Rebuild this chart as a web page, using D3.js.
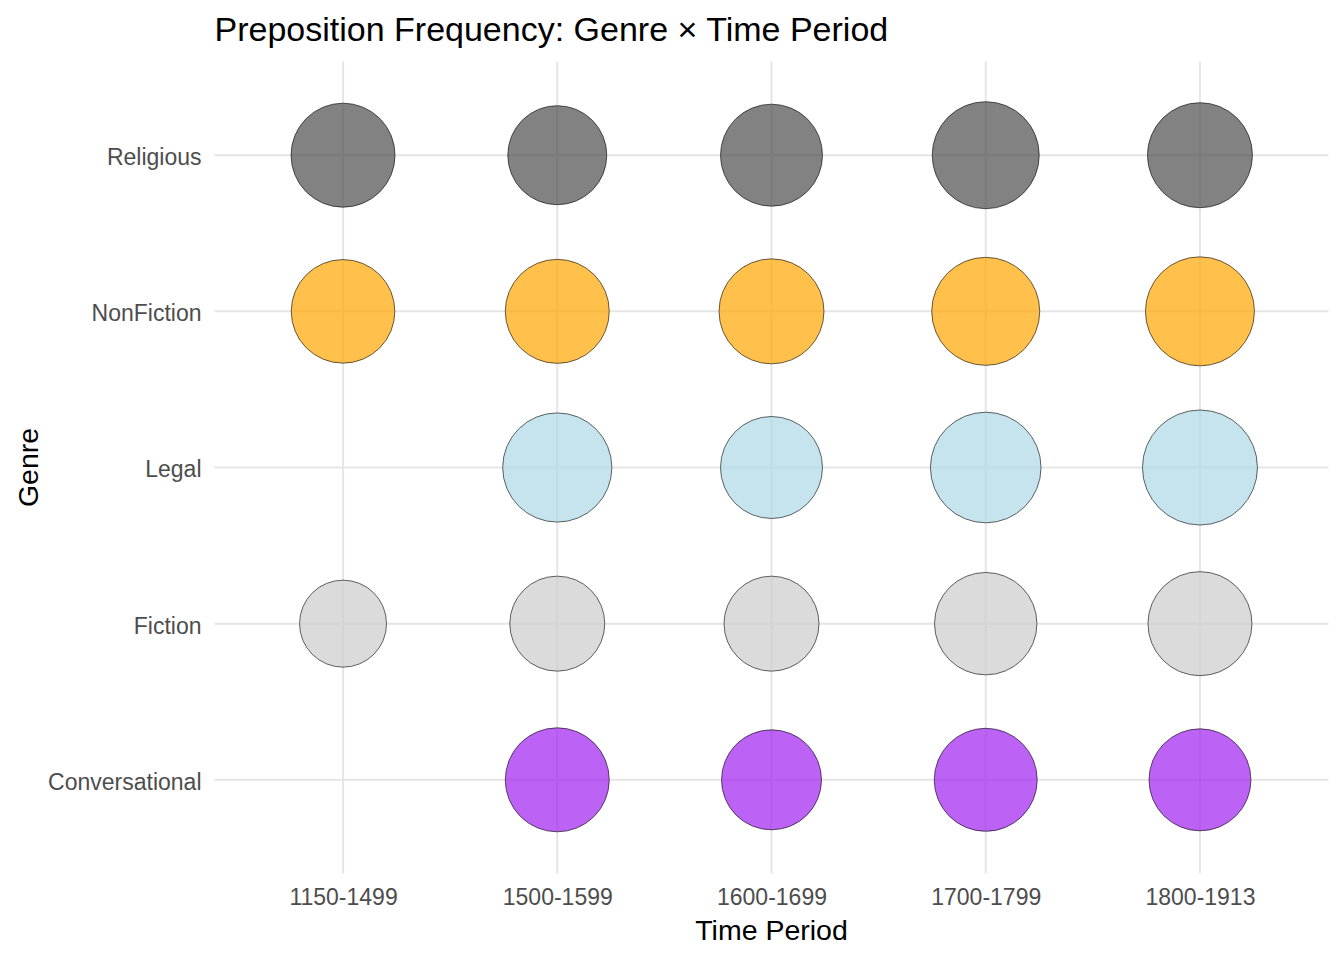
<!DOCTYPE html>
<html>
<head>
  <meta charset="utf-8">
  <title>Preposition Frequency: Genre x Time Period</title>
  <script src="https://d3js.org/d3.v7.min.js"></script>
  <style>
    body { margin: 0; background: #fff; }
    text { font-family: "Liberation Sans", Arial, sans-serif; }
  </style>
</head>
<body>
<script>
// time periods (x axis) and genres (y axis, bottom to top)
var periods = ["1150-1499", "1500-1599", "1600-1699", "1700-1799", "1800-1913"];
var genres = ["Conversational", "Fiction", "Legal", "NonFiction", "Religious"];

// frequency per genre, one value per period (null = no texts)
var religious      = [114.5, 103.8, 110.1, 121.2, 116.7];
var nonFiction     = [113.6, 114.5, 116.7, 123.5, 125.8];
var legal          = [null, 126.2, 110.1, 129.5, 140.0];
var fiction        = [80.1, 95.5, 95.5, 111.0, 114.5];
var conversational = [null, 114.5, 105.9, 112.3, 110.1];

var genreColors = ["#a020f0", "#cccccc", "#add8e6", "#ffa500", "#4d4d4d"];

var seriesByGenre = {
  "Conversational": conversational,
  "Fiction": fiction,
  "Legal": legal,
  "NonFiction": nonFiction,
  "Religious": religious
};

function draw() {
  // flatten into points
  var points = [];
  genres.forEach(function(g) {
    seriesByGenre[g].forEach(function(v, i) {
      if (v != null) points.push({ genre: g, period: periods[i], value: v });
    });
  });

  var width = 1344, height = 960;
  var pLeft = 214.5, pRight = 1328.5, pTop = 61.5, pBottom = 873.5;

  var svg = d3.select("body").append("svg").attr("width", width).attr("height", height);

  // discrete scales with ggplot-style 0.6 expansion
  var x = d3.scalePoint().domain(periods).range([pLeft, pRight]).padding(0.6);
  var y = d3.scalePoint().domain(genres).range([pBottom, pTop]).padding(0.6);
  var r = d3.scaleSqrt().domain([0, d3.max(points, function(d) { return d.value; })]).range([0, 57.5]);
  var color = d3.scaleOrdinal().domain(genres).range(genreColors);

  // grid
  var grid = svg.append("g");
  grid.selectAll(".vx").data(periods).enter().append("line")
    .attr("x1", function(d) { return x(d); }).attr("x2", function(d) { return x(d); })
    .attr("y1", pTop).attr("y2", pBottom)
    .attr("stroke", "#e6e6e6").attr("stroke-width", 2);
  grid.selectAll(".hy").data(genres).enter().append("line")
    .attr("y1", function(d) { return y(d); }).attr("y2", function(d) { return y(d); })
    .attr("x1", pLeft).attr("x2", pRight)
    .attr("stroke", "#e6e6e6").attr("stroke-width", 2);

  // bubbles
  svg.append("g").selectAll("circle").data(points).enter().append("circle")
    .attr("cx", function(d) { return x(d.period); })
    .attr("cy", function(d) { return y(d.genre); })
    .attr("r", function(d) { return r(d.value); })
    .attr("fill", function(d) { return color(d.genre); })
    .attr("fill-opacity", 0.7)
    .attr("stroke", "#000").attr("stroke-width", 0.6);

  // axes (no lines, labels only)
  var xAxis = svg.append("g").attr("transform", "translate(0," + pBottom + ")")
    .call(d3.axisBottom(x).tickSize(0).tickPadding(15));
  xAxis.select(".domain").remove();
  xAxis.selectAll("text").attr("font-size", 23).attr("fill", "#4d4d4d")
    .style("font-family", "Liberation Sans, Arial, sans-serif");

  var yAxis = svg.append("g").attr("transform", "translate(" + pLeft + ",2)")
    .call(d3.axisLeft(y).tickSize(0).tickPadding(13));
  yAxis.select(".domain").remove();
  yAxis.selectAll("text").attr("font-size", 23).attr("fill", "#4d4d4d")
    .style("font-family", "Liberation Sans, Arial, sans-serif");

  // titles
  svg.append("text").attr("x", pLeft).attr("y", 41)
    .attr("font-size", 34).attr("fill", "#000")
    .text("Preposition Frequency: Genre \u00d7 Time Period");

  svg.append("text").attr("x", (pLeft + pRight) / 2).attr("y", 940)
    .attr("text-anchor", "middle").attr("font-size", 28.5).attr("fill", "#000")
    .text("Time Period");

  svg.append("text")
    .attr("transform", "translate(38," + ((pTop + pBottom) / 2) + ") rotate(-90)")
    .attr("text-anchor", "middle").attr("font-size", 28.5).attr("fill", "#000")
    .text("Genre");
}

draw();
</script>
</body>
</html>
